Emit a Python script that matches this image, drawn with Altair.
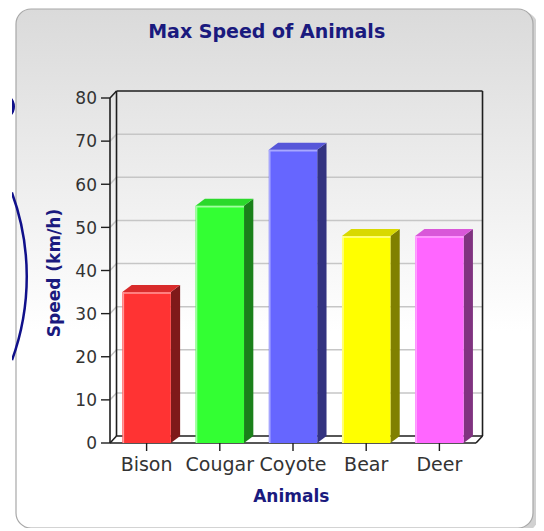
import altair as alt
import pandas as pd

# ---------------- data ----------------
categories = ["Bison", "Cougar", "Coyote", "Bear", "Deer"]
speeds = [35, 55, 68, 48, 48]
front_colors = ["#FF3333", "#33FF33", "#6666FF", "#FFFF00", "#FF66FF"]
side_colors = ["#7F1A1A", "#1A801A", "#333380", "#808000", "#803380"]
top_colors = ["#D92B2B", "#2BD92B", "#5757D9", "#D9D900", "#D957D9"]
edge_colors = ["#FF9A9A", "#A0FFA0", "#A8A8FF", "#FFFF9A", "#FFA8FF"]
y_ticks = [0, 10, 20, 30, 40, 50, 60, 70, 80]

TITLE = "Max Speed of Animals"
X_TITLE = "Animals"
Y_TITLE = "Speed (km/h)"

# ---------------- geometry constants ----------------
Y_MAX = 80
N = len(categories)
HALF = 0.331            # half bar width (category units)
BDX, BDY = 0.127, 1.62  # bar depth
WDX, WDY = 0.089, 1.62  # wall depth
NAVY = "#1a1a7e"
FONT = "DejaVu Sans"

XS = alt.Scale(domain=[0, N], nice=False, zero=False)
YS = alt.Scale(domain=[0, Y_MAX], nice=False, zero=False)


def X(f):
    return alt.X(f, type="quantitative", scale=XS, axis=None)


def Y(f):
    return alt.Y(f, type="quantitative", scale=YS, axis=None)


one = pd.DataFrame({"t": [TITLE]})

# ---------------- panel / decoration ----------------
shadow = alt.Chart(one).mark_rect(cornerRadius=15, fill="#bdbdbd", opacity=0.7).encode(
    x=alt.value(-90), x2=alt.value(428), y=alt.value(-86), y2=alt.value(434)
)
panel = alt.Chart(one).mark_rect(
    cornerRadius=15,
    stroke="#a8a8a8",
    strokeWidth=1.2,
    fill=alt.Gradient(
        gradient="linear",
        stops=[
            alt.GradientStop(offset=0, color="#dadada"),
            alt.GradientStop(offset=0.62, color="#ffffff"),
            alt.GradientStop(offset=1, color="#ffffff"),
        ],
        x1=0, x2=0, y1=0, y2=1,
    ),
).encode(x=alt.value(-94), x2=alt.value(423), y=alt.value(-89), y2=alt.value(430))

big_arc = alt.Chart(one).mark_arc(
    innerRadius=243.3, outerRadius=245.8, theta=1.22, theta2=1.92, color="#10108a"
).encode(x=alt.value(-327.8), y=alt.value(178.5))
blob = alt.Chart(one).mark_point(shape="circle", filled=True, size=729, color="#10108a", opacity=1).encode(
    x=alt.value(-108.5), y=alt.value(8.5)
)
strip = alt.Chart(one).mark_rect(fill="white").encode(
    x=alt.value(-110), x2=alt.value(-98), y=alt.value(-98), y2=alt.value(440)
)

# ---------------- walls / grid ----------------
grid_rows = []
for v in y_ticks[1:-1]:
    grid_rows.append({"x": 0, "y": v, "x2": WDX, "y2": v + WDY})
    grid_rows.append({"x": WDX, "y": v + WDY, "x2": N + WDX, "y2": v + WDY})
grid = alt.Chart(pd.DataFrame(grid_rows)).mark_rule(color="#c6c6c6", strokeWidth=1.5).encode(
    x=X("x"), x2="x2", y=Y("y"), y2="y2"
)

floor_df = pd.DataFrame({
    "x": [0, WDX, N, N + WDX],
    "y": [0, WDY, WDY, WDY],
    "y2": [0, 0, 0, WDY],
})
floor = alt.Chart(floor_df).mark_area(fill="white", opacity=1).encode(x=X("x"), y=Y("y"), y2="y2")

frame_rows = [
    (0, 0, 0, Y_MAX),
    (WDX, WDY, WDX, Y_MAX + WDY),
    (0, Y_MAX, WDX, Y_MAX + WDY),
    (WDX, Y_MAX + WDY, N + WDX, Y_MAX + WDY),
    (N + WDX, WDY, N + WDX, Y_MAX + WDY),
    (0, 0, N, 0),
    (WDX, WDY, N + WDX, WDY),
    (0, 0, WDX, WDY),
    (N, 0, N + WDX, WDY),
]
frame = alt.Chart(pd.DataFrame(frame_rows, columns=["x", "y", "x2", "y2"])).mark_rule(
    color="#1e1e1e", strokeWidth=1.6
).encode(x=X("x"), x2="x2", y=Y("y"), y2="y2")

# ---------------- bars ----------------
front_df = pd.DataFrame({
    "animal": categories,
    "x0": [i + 0.5 - HALF for i in range(N)],
    "x1": [i + 0.5 + HALF for i in range(N)],
    "v": speeds,
    "base": [0] * N,
})
side_rows, top_rows = [], []
for i, (a, v) in enumerate(zip(categories, speeds)):
    x0, x1 = i + 0.5 - HALF, i + 0.5 + HALF
    side_rows += [
        {"animal": a, "x": x1, "y": v, "y2": 0},
        {"animal": a, "x": x1 + BDX, "y": v + BDY, "y2": BDY},
    ]
    top_rows += [
        {"animal": a, "x": x0, "y": v, "y2": v},
        {"animal": a, "x": x0 + BDX, "y": v + BDY, "y2": v},
        {"animal": a, "x": x1, "y": v + BDY, "y2": v},
        {"animal": a, "x": x1 + BDX, "y": v + BDY, "y2": v + BDY},
    ]

side = alt.Chart(pd.DataFrame(side_rows)).mark_area(opacity=1).encode(
    x=X("x"), y=Y("y"), y2="y2", detail="animal:N",
    fill=alt.Fill("animal:N", scale=alt.Scale(domain=categories, range=side_colors), legend=None),
)
top = alt.Chart(pd.DataFrame(top_rows)).mark_area(opacity=1).encode(
    x=X("x"), y=Y("y"), y2="y2", detail="animal:N",
    fill=alt.Fill("animal:N", scale=alt.Scale(domain=categories, range=top_colors), legend=None),
)
front = alt.Chart(front_df).mark_rect(opacity=1).encode(
    x=X("x0"), x2="x1", y=Y("v"), y2="base",
    fill=alt.Fill("animal:N", scale=alt.Scale(domain=categories, range=front_colors), legend=None),
)
edge_top = alt.Chart(front_df).mark_rule(strokeWidth=1.5, yOffset=1).encode(
    x=X("x0"), x2="x1", y=Y("v"),
    stroke=alt.Stroke("animal:N", scale=alt.Scale(domain=categories, range=edge_colors), legend=None),
)
edge_left = alt.Chart(front_df).mark_rule(strokeWidth=1.5, xOffset=1).encode(
    x=X("x0"), y=Y("v"), y2="base",
    stroke=alt.Stroke("animal:N", scale=alt.Scale(domain=categories, range=edge_colors), legend=None),
)

# ---------------- axes (ticks + labels) ----------------
ydf = pd.DataFrame({"v": y_ticks, "label": [str(v) for v in y_ticks]})
y_tick_marks = alt.Chart(ydf).mark_rule(color="#1e1e1e", strokeWidth=1.4).encode(
    y=Y("v"), x=alt.value(-9), x2=alt.value(0)
)
y_labels = alt.Chart(ydf).mark_text(
    align="right", baseline="alphabetic", dy=6.3, font=FONT, fontSize=17, color="#333333"
).encode(y=Y("v"), x=alt.value(-13), text="label:N")

xdf = pd.DataFrame({"c": [i + 0.5 for i in range(N)], "label": categories})
x_tick_marks = alt.Chart(xdf).mark_rule(color="#1e1e1e", strokeWidth=1.4).encode(
    x=X("c"), y=alt.value(345), y2=alt.value(353)
)
x_labels = alt.Chart(xdf).mark_text(
    align="center", baseline="alphabetic", font=FONT, fontSize=19, color="#333333"
).encode(x=X("c"), y=alt.value(373), text="label:N")

# ---------------- titles ----------------
title = alt.Chart(pd.DataFrame({"t": [TITLE]})).mark_text(
    align="center", baseline="alphabetic", font=FONT, fontSize=19, fontWeight="bold", color=NAVY
).encode(text="t:N", x=alt.value(156.7), y=alt.value(-60.5))
x_title = alt.Chart(pd.DataFrame({"t": [X_TITLE]})).mark_text(
    align="center", baseline="alphabetic", font=FONT, fontSize=17, fontWeight="bold", color=NAVY
).encode(text="t:N", x=alt.value(181.3), y=alt.value(403.5))
y_title = alt.Chart(pd.DataFrame({"t": [Y_TITLE]})).mark_text(
    align="center", baseline="middle", angle=270, font=FONT, fontSize=17, fontWeight="bold", color=NAVY
).encode(text="t:N", x=alt.value(-55), y=alt.value(175))

chart = (
    alt.layer(
        shadow, panel, big_arc, blob, strip,
        grid, floor, frame,
        side, top, front, edge_top, edge_left,
        y_tick_marks, y_labels, x_tick_marks, x_labels,
        title, x_title, y_title,
    )
    .resolve_scale(fill="independent", stroke="independent")
    .properties(
        width=366,
        height=345,
        padding={"left": 102, "top": 90, "right": 60, "bottom": 85},
        autosize=alt.AutoSizeParams(type="none"),
        background="white",
    )
    .configure_view(strokeWidth=0)
)

chart.save("out.html", embed_options={"renderer": "svg", "actions": False})
